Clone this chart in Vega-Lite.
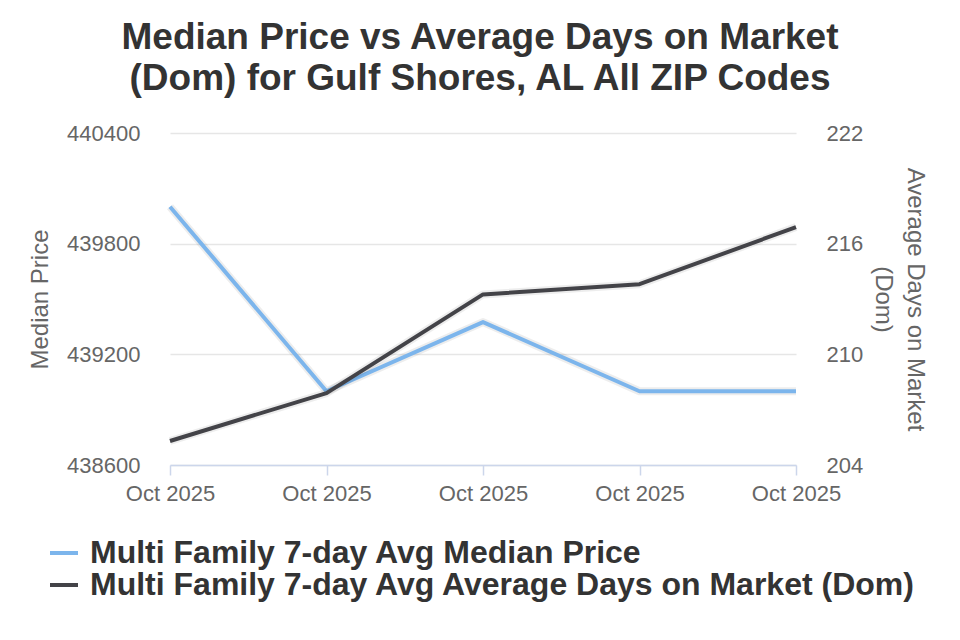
{
  "$schema": "https://vega.github.io/schema/vega-lite/v6.json",
  "width": 626,
  "height": 332,
  "autosize": {"type": "none"},
  "padding": {"left": 170, "top": 133, "right": 164, "bottom": 175},
  "background": "#ffffff",
  "title": {
    "text": ["Median Price vs Average Days on Market", "(Dom) for Gulf Shores, AL All ZIP Codes"],
    "font": "Liberation Sans",
    "fontSize": 37,
    "fontWeight": "bold",
    "color": "#333333",
    "anchor": "middle",
    "lineHeight": 41,
    "offset": 24,
    "dx": -3
  },
  "config": {
    "view": {"stroke": null},
    "font": "Liberation Sans",
    "axis": {
      "labelFont": "Liberation Sans",
      "titleFont": "Liberation Sans",
      "labelColor": "#666666",
      "titleColor": "#666666",
      "labelFontSize": 22,
      "titleFontSize": 24,
      "titleFontWeight": "normal"
    }
  },
  "data": {
    "values": [
      {"i": 0, "series": "Multi Family 7-day Avg Median Price", "value": 440000},
      {"i": 1, "series": "Multi Family 7-day Avg Median Price", "value": 439000},
      {"i": 2, "series": "Multi Family 7-day Avg Median Price", "value": 439375},
      {"i": 3, "series": "Multi Family 7-day Avg Median Price", "value": 439000},
      {"i": 4, "series": "Multi Family 7-day Avg Median Price", "value": 439000},
      {"i": 0, "series": "Multi Family 7-day Avg Average Days on Market (Dom)", "value": 205.3},
      {"i": 1, "series": "Multi Family 7-day Avg Average Days on Market (Dom)", "value": 207.9},
      {"i": 2, "series": "Multi Family 7-day Avg Average Days on Market (Dom)", "value": 213.25},
      {"i": 3, "series": "Multi Family 7-day Avg Average Days on Market (Dom)", "value": 213.8},
      {"i": 4, "series": "Multi Family 7-day Avg Average Days on Market (Dom)", "value": 216.9}
    ]
  },
  "encoding": {
    "x": {
      "field": "i",
      "type": "quantitative",
      "scale": {"domain": [0, 4], "nice": false, "zero": false},
      "axis": {
        "title": null,
        "values": [0, 1, 2, 3, 4],
        "labelExpr": "'Oct 2025'",
        "grid": false,
        "domainColor": "#ccd6eb",
        "domainWidth": 1.5,
        "tickColor": "#ccd6eb",
        "tickWidth": 1.5,
        "tickSize": 10,
        "labelPadding": 8,
        "labelFlush": false,
        "labelOverlap": false
      }
    }
  },
  "layer": [
    {
      "transform": [{"filter": "datum.series === 'Multi Family 7-day Avg Median Price'"}],
      "layer": [
        {
          "mark": {"type": "line", "color": "#000000", "opacity": 0.07, "strokeWidth": 8, "strokeJoin": "round"},
          "encoding": {
            "y": {"field": "value", "type": "quantitative"}
          }
        },
        {
          "mark": {"type": "line", "strokeWidth": 4, "strokeJoin": "round"},
          "encoding": {
            "y": {
              "field": "value",
              "type": "quantitative",
              "scale": {"domain": [438600, 440400], "nice": false, "zero": false},
              "axis": {
                "orient": "left",
                "title": "Median Price",
                "values": [438600, 439200, 439800, 440400],
                "format": "d",
                "domain": false,
                "ticks": false,
                "labelPadding": 30,
                "titlePadding": 14,
                "gridColor": "#e6e6e6",
                "gridWidth": 1.5
              }
            },
            "color": {
              "field": "series",
              "type": "nominal",
              "scale": {
                "domain": ["Multi Family 7-day Avg Median Price", "Multi Family 7-day Avg Average Days on Market (Dom)"],
                "range": ["#7cb5ec", "#434348"]
              },
              "legend": {
                "title": null,
                "orient": "none",
                "legendX": -122,
                "legendY": 404,
                "direction": "vertical",
                "symbolType": "stroke",
                "symbolSize": 784,
                "symbolStrokeWidth": 4,
                "labelFont": "Liberation Sans",
                "labelFontSize": 32,
                "labelFontWeight": "bold",
                "labelColor": "#333333",
                "labelLimit": 900,
                "rowPadding": -3,
                "labelOffset": 10
              }
            }
          }
        }
      ]
    },
    {
      "transform": [{"filter": "datum.series === 'Multi Family 7-day Avg Average Days on Market (Dom)'"}],
      "layer": [
        {
          "mark": {"type": "line", "color": "#000000", "opacity": 0.07, "strokeWidth": 8, "strokeJoin": "round"},
          "encoding": {
            "y": {"field": "value", "type": "quantitative"}
          }
        },
        {
          "mark": {"type": "line", "strokeWidth": 4, "strokeJoin": "round"},
          "encoding": {
            "y": {
              "field": "value",
              "type": "quantitative",
              "scale": {"domain": [204, 222], "nice": false, "zero": false},
              "axis": {
                "orient": "right",
                "title": ["Average Days on Market", "(Dom)"],
                "titleLineHeight": 32,
                "values": [204, 210, 216, 222],
                "domain": false,
                "ticks": false,
                "grid": false,
                "labelPadding": 30,
                "titlePadding": 8
              }
            },
            "color": {"field": "series", "type": "nominal"}
          }
        }
      ]
    }
  ],
  "resolve": {"scale": {"y": "independent"}}
}
